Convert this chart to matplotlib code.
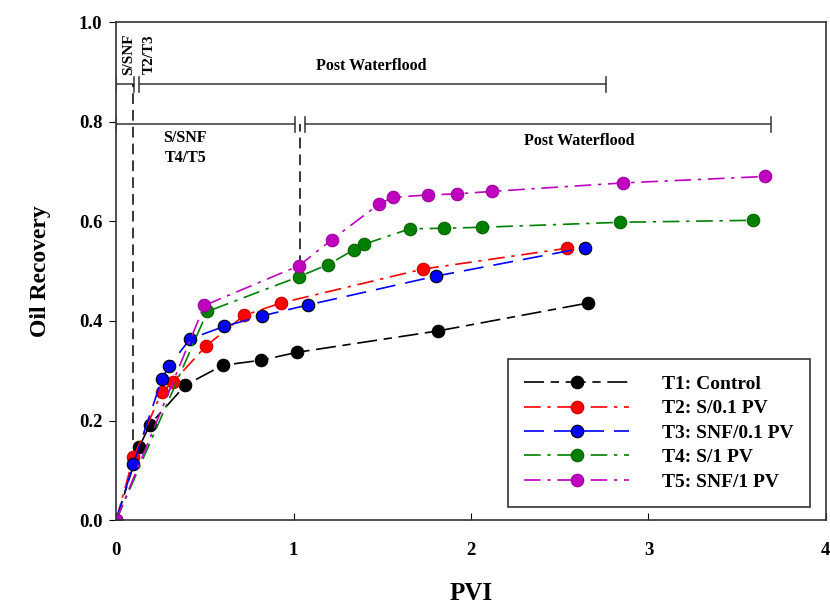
import matplotlib
matplotlib.use("Agg")
import matplotlib.pyplot as plt

plt.rcParams['font.family'] = ['Liberation Serif', 'DejaVu Serif']
plt.rcParams['font.weight'] = 'bold'

# data
t1_x = [0, 0.13, 0.19, 0.39, 0.60, 0.815, 1.02, 1.815, 2.66]
t1_y = [0, 0.147, 0.192, 0.271, 0.311, 0.321, 0.337, 0.380, 0.436]

t2_x = [0, 0.097, 0.257, 0.319, 0.507, 0.721, 0.928, 1.728, 2.543]
t2_y = [0, 0.126, 0.258, 0.277, 0.350, 0.411, 0.436, 0.504, 0.546]

t3_x = [0, 0.097, 0.257, 0.299, 0.417, 0.608, 0.821, 1.080, 1.803, 2.642]
t3_y = [0, 0.113, 0.283, 0.310, 0.364, 0.389, 0.410, 0.432, 0.490, 0.547]

t4_x = [0, 0.514, 1.031, 1.193, 1.341, 1.397, 1.656, 1.850, 2.060, 2.839, 3.590]
t4_y = [0, 0.419, 0.489, 0.513, 0.543, 0.554, 0.585, 0.586, 0.588, 0.598, 0.602]

t5_x = [0, 0.497, 1.031, 1.215, 1.483, 1.559, 1.759, 1.921, 2.117, 2.855, 3.656]
t5_y = [0, 0.431, 0.511, 0.563, 0.635, 0.648, 0.653, 0.655, 0.660, 0.677, 0.690]

labels = ['T1: Control', 'T2: S/0.1 PV', 'T3: SNF/0.1 PV', 'T4: S/1 PV', 'T5: SNF/1 PV']

series = [
    (t1_x, t1_y, 'black', 'black', (0, (12, 4, 5, 4))),
    (t2_x, t2_y, 'red', '#cc0000', (0, (10, 4, 2, 4))),
    (t3_x, t3_y, 'blue', 'black', (0, (12, 6))),
    (t4_x, t4_y, 'green', '#006400', (0, (10, 4, 2, 4))),
    (t5_x, t5_y, 'm', '#a000a0', (0, (10, 4, 2, 4))),
]

fig = plt.figure(figsize=(8.3, 6.12), dpi=100)
ax = fig.add_axes([0.14, 0.150, 0.855, 0.814])

# annotation brackets and dividers
grey = '#444444'
ax.plot([0, 0.1], [0.875, 0.875], color=grey, lw=1.2)
ax.plot([0.13, 2.76], [0.875, 0.875], color=grey, lw=1.2)
for xv in [0, 0.1, 0.13, 2.76]:
    ax.plot([xv, xv], [0.86, 0.89], color=grey, lw=1.2)
ax.plot([0, 1.008], [0.795, 0.795], color=grey, lw=1.2)
ax.plot([1.065, 3.69], [0.795, 0.795], color=grey, lw=1.2)
for xv in [0, 1.008, 1.065, 3.69]:
    ax.plot([xv, xv], [0.78, 0.81], color=grey, lw=1.2)
ax.plot([0.094, 0.094], [0.16, 0.875], color='black', lw=1.1, dashes=(7, 4))
ax.plot([1.037, 1.037], [0.51, 0.795], color='black', lw=1.1, dashes=(7, 4))

ax.text(0.068, 0.935, 'S/SNF', rotation=90, ha='center', va='center', fontsize=11, fontweight='bold')
ax.text(0.185, 0.935, 'T2/T3', rotation=90, ha='center', va='center', fontsize=11, fontweight='bold')
ax.text(1.44, 0.912, 'Post Waterflood', ha='center', va='center', fontsize=11.5, fontweight='bold')
ax.text(0.39, 0.768, 'S/SNF', ha='center', va='center', fontsize=11.5, fontweight='bold')
ax.text(0.39, 0.727, 'T4/T5', ha='center', va='center', fontsize=11.5, fontweight='bold')
ax.text(2.61, 0.762, 'Post Waterflood', ha='center', va='center', fontsize=11.5, fontweight='bold')

for (xs, ys, c, ec, ls), lab in zip(series, labels):
    ax.plot(xs, ys, color=c, linestyle=ls, lw=1.2, marker='o', markersize=9,
            markerfacecolor=c, markeredgecolor=ec, markeredgewidth=0.8, label=lab)

ax.set_xlim(0, 4)
ax.set_ylim(0, 1.0)
ax.set_xticks([0, 1, 2, 3, 4])
ax.set_yticks([0.0, 0.2, 0.4, 0.6, 0.8, 1.0])
ax.set_yticklabels(['0.0', '0.2', '0.4', '0.6', '0.8', '1.0'])
ax.tick_params(axis='x', direction='in', length=5, labelsize=13.5, pad=16)
ax.tick_params(axis='y', direction='out', length=5, labelsize=13.5, pad=5)
for lab in ax.get_xticklabels() + ax.get_yticklabels():
    lab.set_fontweight('bold')
for sp in ax.spines.values():
    sp.set_color('#333333')
    sp.set_linewidth(1.2)

ax.set_xlabel('PVI', fontsize=18, fontweight='bold', labelpad=16)
ax.set_ylabel('Oil Recovery', fontsize=17, fontweight='bold', labelpad=20)

leg = ax.legend(loc='lower right', bbox_to_anchor=(0.978, 0.026), fontsize=14,
                handlelength=5.4, handletextpad=1.7, labelspacing=0.35,
                borderpad=0.85, borderaxespad=0.0, fancybox=False,
                edgecolor='#333333', framealpha=1)
leg.get_frame().set_linewidth(1.2)
for t in leg.get_texts():
    t.set_fontweight('bold')

fig.savefig('out.png', dpi=100)
